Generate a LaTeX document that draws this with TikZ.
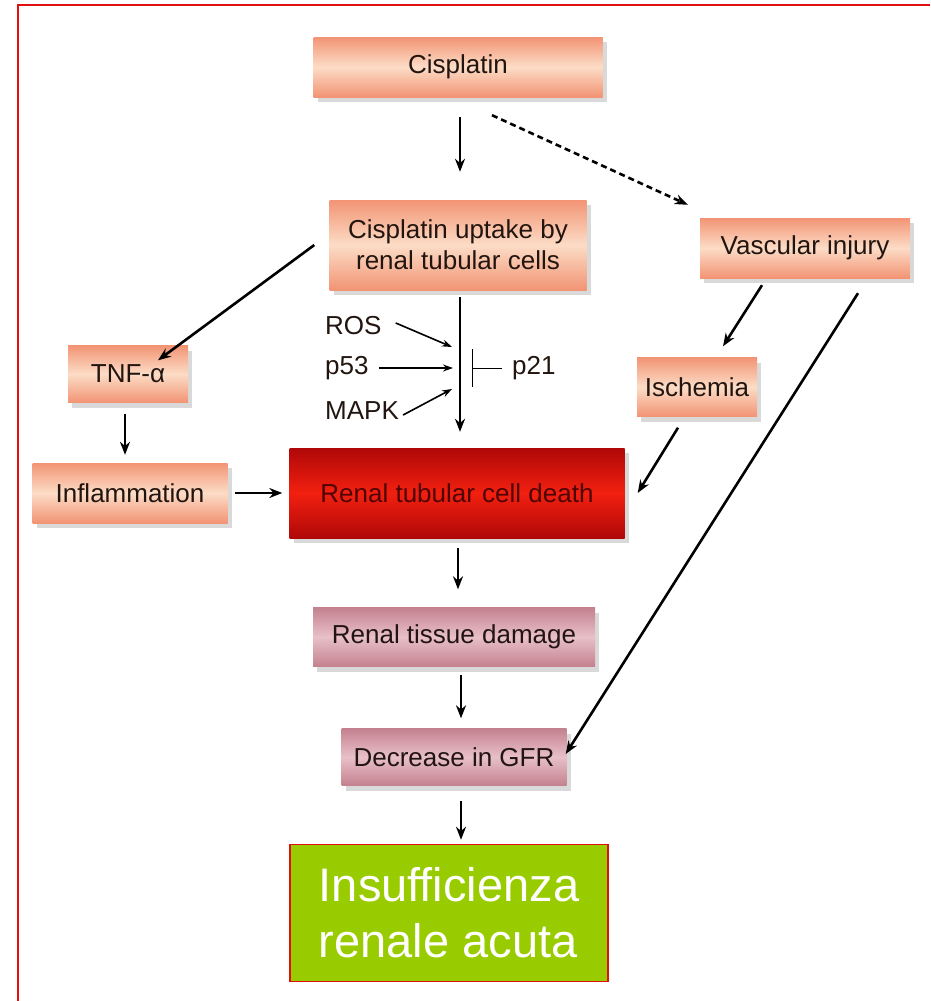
\documentclass[tikz,border=0pt]{standalone}
\usepackage{fontspec}
\setmainfont{Liberation Sans}
\usetikzlibrary{arrows.meta,shadows}
\definecolor{peachE}{HTML}{F29474}
\definecolor{peachC}{HTML}{FCDCC6}
\definecolor{pinkE}{HTML}{C4818F}
\definecolor{pinkC}{HTML}{E8C0C8}
\definecolor{redE}{HTML}{B00808}
\definecolor{redC}{HTML}{F22010}
\definecolor{txt}{HTML}{221510}
\definecolor{frameRed}{HTML}{E01010}
\definecolor{greenbox}{HTML}{99CC00}
\tikzset{
  boxfont/.style={font=\fontsize{26}{31}\selectfont},
  peachbox/.style={rectangle, top color=peachE, bottom color=peachE, middle color=peachC,
    text=txt, boxfont, inner sep=2pt,
    drop shadow={opacity=0.3, shadow xshift=4pt, shadow yshift=-5pt}},
  pinkbox/.style={rectangle, top color=pinkE, bottom color=pinkE, middle color=pinkC,
    text=txt, boxfont, inner sep=2pt,
    drop shadow={opacity=0.3, shadow xshift=4pt, shadow yshift=-5pt}},
  redbox/.style={rectangle, top color=redE, bottom color=redE, middle color=redC,
    text=redE!45!black, boxfont, inner sep=2pt,
    drop shadow={opacity=0.3, shadow xshift=4pt, shadow yshift=-5pt}},
  arr/.style={line width=2.6pt, -{Stealth[length=13pt,width=10pt]}},
  smallarr/.style={line width=1.6pt, -{Stealth[length=10pt,width=7pt]}},
  lbl/.style={boxfont, text=txt, inner sep=0pt},
}
\begin{document}
\begin{tikzpicture}[x=1pt,y=-1pt]
\useasboundingbox (0,0) rectangle (930,1001);
% outer frame
\draw[frameRed, line width=2.2pt] (18,1001) -- (18,5) -- (930,5);

% nodes
\node[peachbox, minimum width=289pt, minimum height=60pt] (cis) at (458,67) {Cisplatin};
\node[peachbox, minimum width=257pt, minimum height=90pt, align=center] (upt) at (458,245) {Cisplatin uptake by\\renal tubular cells};
\node[peachbox, minimum width=210pt, minimum height=60pt] (vas) at (805,248) {Vascular injury};
\node[peachbox, minimum width=120pt, minimum height=59pt] (isc) at (697,387) {Ischemia};
\node[peachbox, minimum width=120pt, minimum height=57pt] (tnf) at (128,374) {TNF-α};
\node[peachbox, minimum width=195pt, minimum height=60pt] (inf) at (130,493) {Inflammation};
\node[redbox, minimum width=335pt, minimum height=90pt] (death) at (457,493) {Renal tubular cell death};
\node[pinkbox, minimum width=282pt, minimum height=59pt] (tis) at (454,637) {Renal tissue damage};
\node[pinkbox, minimum width=225pt, minimum height=57pt] (gfr) at (454,757) {Decrease in GFR};
\node[rectangle, fill=greenbox, draw=frameRed, line width=1.5pt, minimum width=318pt, minimum height=137pt,
      text=white, align=left, font=\fontsize{47}{56}\selectfont] (irc) at (449,913) {Insufficienza\\renale acuta};

% modulators
\node[lbl, anchor=west] (ros) at (325,326) {ROS};
\node[lbl, anchor=west] (p53) at (325,368) {p53};
\node[lbl, anchor=west] (mapk) at (325,411) {MAPK};
\node[lbl, anchor=west] (p21) at (512,368) {p21};

% main connectors (vertical trunk at x = 460)
\draw[arr] ([xshift=2pt,yshift=-20pt]cis.south) -- ([xshift=2pt,yshift=28pt]upt.north);
\draw[arr, dash pattern=on 6pt off 4pt] ([xshift=34pt,yshift=-18pt]cis.south) -- ([xshift=-12pt,yshift=13pt]vas.north west);
\draw[arr] ([xshift=-15pt]upt.west) -- ([xshift=30pt,yshift=-15pt]tnf.north);
\draw[arr] ([xshift=-3pt,yshift=-11pt]tnf.south) -- ([xshift=-5pt,yshift=8pt]inf.north);
\draw[arr] ([xshift=7pt]inf.east) -- ([xshift=-7pt]death.west);
\draw[arr] ([xshift=2pt,yshift=-7pt]upt.south) -- ([xshift=2pt,yshift=16pt]upt.south |- death.north);
\draw[arr] ([xshift=-43pt,yshift=-7pt]vas.south) -- ([xshift=26pt,yshift=11pt]isc.north);
\draw[arr] ([xshift=-19pt,yshift=-11pt]isc.south) -- ([xshift=13pt]death.east);
\draw[arr] ([xshift=53pt,yshift=-15pt]vas.south) -- ([xshift=-1pt,yshift=3pt]gfr.east);
\draw[arr] ([xshift=1pt,yshift=-10pt]death.south) -- ([xshift=1pt,yshift=18pt]death.south |- tis.north);
\draw[arr] ([xshift=4pt,yshift=-8pt]tis.south -| death.south) -- ([xshift=4pt,yshift=10pt]gfr.north -| death.south);
\draw[arr] ([xshift=4pt,yshift=-15pt]gfr.south -| death.south) -- ([xshift=4pt,yshift=4pt]irc.north -| death.south);

% modulator arrows
\coordinate (hitR) at (452,347);
\coordinate (hitP) at (453,368);
\coordinate (hitM) at (452,389);
\draw[smallarr] ([xshift=14pt,yshift=3pt]ros.east) -- (hitR);
\draw[smallarr] ([xshift=10pt]p53.east) -- (hitP);
\draw[smallarr] ([xshift=4pt,yshift=-4pt]mapk.east) -- (hitM);
\draw[line width=0.9pt] ([xshift=-10pt]p21.west) -- (472,368);
\draw[line width=0.9pt] (472,349) -- (472,387);
\end{tikzpicture}
\end{document}
